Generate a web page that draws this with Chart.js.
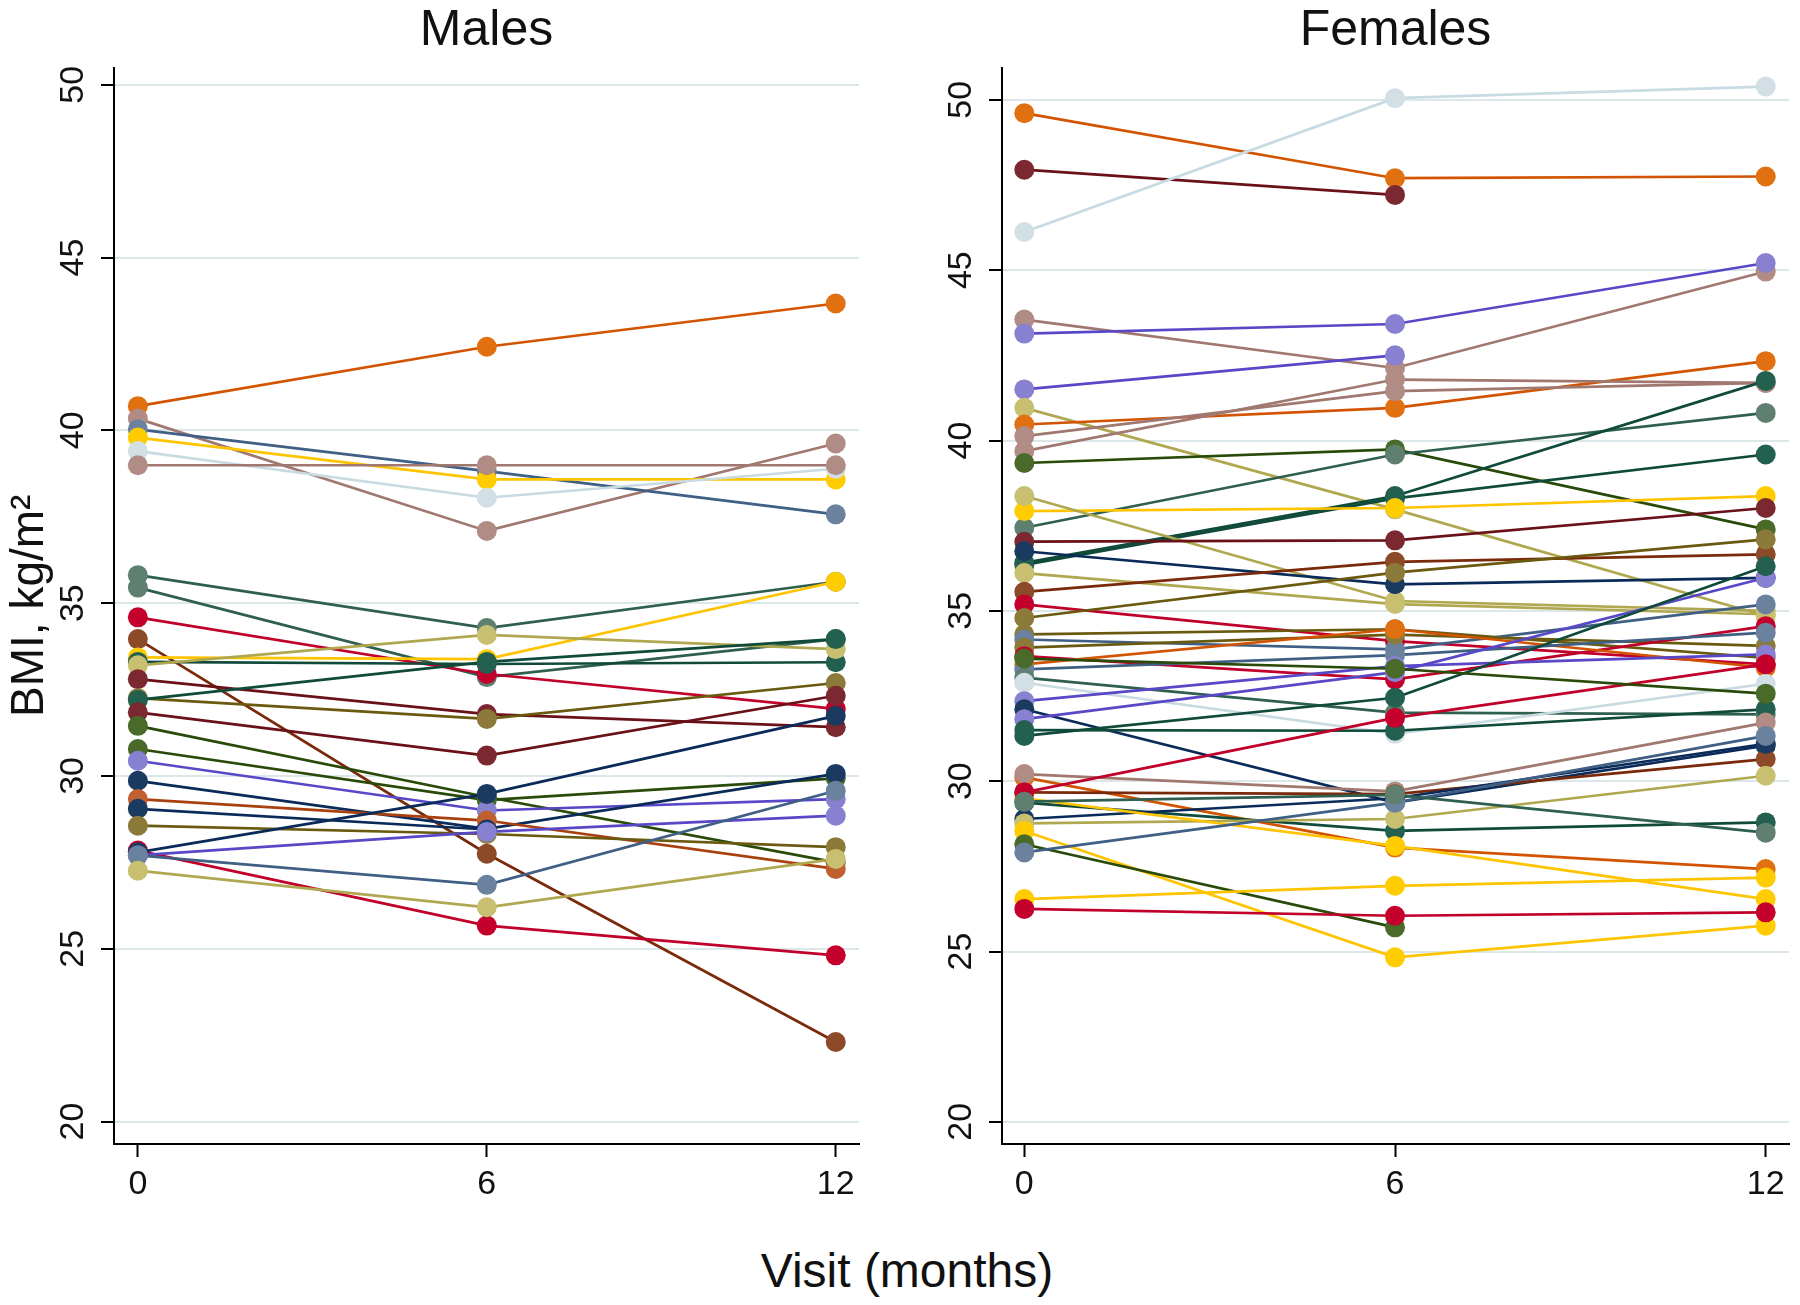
<!DOCTYPE html>
<html>
<head>
<meta charset="utf-8">
<script src="https://cdn.jsdelivr.net/npm/chart.js@4.4.1/dist/chart.umd.min.js"></script>
<style>
  html, body { margin: 0; padding: 0; background: #fff; }
  body { width: 1800px; height: 1305px; position: relative; overflow: hidden; font-family: "Liberation Sans", Arial, sans-serif; }
  #male { position: absolute; left: 0; top: 0; }
  #female { position: absolute; left: 880px; top: 0; }
  #xlabel { position: absolute; left: 0; width: 1814px; top: 1243px; text-align: center; font-size: 48px; color: #111; }
</style>
</head>
<body>
<canvas id="male" width="880" height="1210" style="width:880px;height:1210px"></canvas>
<canvas id="female" width="920" height="1210" style="width:920px;height:1210px"></canvas>
<div id="xlabel">Visit (months)</div>

<script>
// BMI per participant at visit 0, 6 and 12 months (null = no visit)
const visits = [0, 6, 12];
const xTicks = [0, 6, 12];
const yTicks = [20, 25, 30, 35, 40, 45, 50];

const maleColors = [
  'orange', 'rosy', 'bluegrey', 'yellow', 'lightblue', 'rosy', 'greygreen', 'greygreen',
  'red', 'sienna', 'yellow', 'teal', 'khaki', 'maroon', 'olive', 'teal', 'maroon',
  'darkgreen', 'darkgreen', 'purple', 'navy', 'orangebrown', 'navy', 'olive', 'red',
  'navy', 'purple', 'bluegrey', 'khaki'
];
const maleBMI = [
  [40.70, 42.42, 43.67],
  [40.34, 37.09, 39.62],
  [40.03, 38.82, 37.57],
  [39.79, 38.58, 38.58],
  [39.40, 38.05, 38.89],
  [38.99, 38.99, 38.99],
  [35.81, 34.28, 35.62],
  [35.45, 32.86, 33.96],
  [34.59, 32.95, 31.94],
  [33.96, 27.75, 22.30],
  [33.43, 33.38, 35.62],
  [33.30, 33.24, 33.29],
  [33.20, 34.08, 33.67],
  [32.80, 31.79, 31.41],
  [32.25, 31.65, 32.69],
  [32.20, 33.30, 33.96],
  [31.84, 30.59, 32.32],
  [31.45, 29.39, 27.50],
  [30.78, 29.30, 29.93],
  [30.44, 29.00, 29.33],
  [29.86, 28.47, 30.06],
  [29.33, 28.71, 27.31],
  [29.05, 28.45, null],
  [28.56, 28.32, 27.94],
  [27.84, 25.67, 24.81],
  [27.79, 29.48, 31.74],
  [27.70, 28.38, 28.85],
  [27.70, 26.85, 29.57],
  [27.26, 26.20, 27.60]
];

const femaleColors = [
  'orange', 'maroon', 'lightblue', 'rosy', 'purple', 'purple', 'khaki', 'orange', 'rosy',
  'rosy', 'darkgreen', 'greygreen', 'teal', 'teal', 'yellow', 'khaki', 'maroon', 'navy',
  'khaki', 'sienna', 'red', 'olive', 'olive', 'bluegrey', 'olive', 'red', 'orange',
  'bluegrey', 'greygreen', 'lightblue', 'purple', 'navy', 'purple', 'teal', 'teal',
  'orange', 'rosy', 'sienna', 'teal', 'navy', 'khaki', 'yellow', 'yellow', 'darkgreen',
  'bluegrey', 'yellow', 'red', 'red', 'greygreen', 'darkgreen'
];
const femaleBMI = [
  [49.61, 47.70, 47.75],
  [47.95, 47.21, null],
  [46.12, 50.05, 50.39],
  [43.55, 42.13, 44.96],
  [43.14, 43.42, 45.21],
  [41.50, 42.50, null],
  [40.96, 37.98, 34.85],
  [40.47, 40.96, 42.33],
  [40.13, 41.45, 41.69],
  [39.69, 41.79, 41.69],
  [39.34, 39.74, 37.39],
  [37.44, 39.59, 40.81],
  [36.41, 38.37, 41.75],
  [36.35, 38.30, 39.59],
  [37.93, 38.02, 38.37],
  [38.37, 35.29, 35.00],
  [37.03, 37.07, 38.02],
  [36.75, 35.78, 35.97],
  [36.11, 35.20, 34.90],
  [35.56, 36.44, 36.66],
  [35.19, 34.11, 33.43],
  [34.79, 36.12, 37.10],
  [34.31, 34.46, 33.62],
  [34.16, 33.87, 35.19],
  [33.92, 34.30, 33.97],
  [33.67, 32.99, 34.55],
  [33.43, 34.46, 33.33],
  [33.28, 33.70, 34.36],
  [33.04, 32.01, 31.96],
  [32.89, 31.39, 32.86],
  [32.35, 33.38, 33.72],
  [32.11, 29.37, 31.04],
  [31.82, 33.20, 35.97],
  [31.33, 32.45, 36.31],
  [31.50, 31.48, 32.11],
  [30.11, 28.05, 27.42],
  [30.21, 29.70, 31.72],
  [29.67, 29.62, 30.65],
  [29.37, 28.54, 28.79],
  [28.89, 29.50, 31.10],
  [28.76, 28.89, 30.16],
  [28.54, 24.83, 25.76],
  [29.50, 28.10, 26.54],
  [28.15, 25.71, null],
  [27.91, 29.37, 31.33],
  [26.54, 26.93, 27.17],
  [26.25, 26.05, 26.15],
  [29.67, 31.86, 33.43],
  [29.40, 29.60, 28.49],
  [33.60, 33.30, 32.57]
];

// [line colour, marker colour]
const palette = {
  orange:      ['#d35400', '#e07010'],
  rosy:        ['#a07870', '#b08c84'],
  bluegrey:    ['#3f5f85', '#6a829e'],
  yellow:      ['#ffc400', '#ffcc00'],
  lightblue:   ['#c8dae2', '#d2e0e6'],
  greygreen:   ['#2f5f4f', '#5f8070'],
  teal:        ['#0f4a3a', '#23604f'],
  red:         ['#c0002a', '#c4002c'],
  sienna:      ['#7a2a0a', '#8c4a28'],
  maroon:      ['#6a1018', '#7c2830'],
  olive:       ['#6a5a10', '#8c7a3a'],
  darkgreen:   ['#2a4a0a', '#4a6a2a'],
  purple:      ['#5848c8', '#8880d0'],
  navy:        ['#0a2a5a', '#1a3a60'],
  khaki:       ['#b0a850', '#c8c070'],
  orangebrown: ['#a84010', '#c06030']
};

const FONT = '"Liberation Sans", Arial, sans-serif';
const TEXT = '#111';

function buildDatasets(series, colors){
  return series.map((vals, i) => {
    const c = palette[colors[i]];
    return {
      data: vals.map((v, j) => ({x: visits[j], y: v})).filter(p => p.y !== null),
      order: -i,  // later participants drawn on top
      borderColor: c[0],
      backgroundColor: c[1],
      pointBackgroundColor: c[1],
      pointBorderColor: c[1],
      pointBorderWidth: 0,
      pointRadius: 10,
      borderWidth: 2.7,
      tension: 0
    };
  });
}

function makeChart(id, title, series, colors, opts){
  return new Chart(document.getElementById(id), {
    type: 'line',
    data: { datasets: buildDatasets(series, colors) },
    options: {
      responsive: false,
      animation: false,
      events: [],
      layout: { padding: { left: 0, right: opts.padRight, top: 0, bottom: 0 } },
      plugins: {
        legend: { display: false },
        tooltip: { enabled: false },
        title: {
          display: true, text: title, fullSize: false, color: TEXT,
          font: { family: FONT, size: 50, weight: 'normal' },
          padding: { top: 1, bottom: 6.5 }
        }
      },
      scales: {
        x: {
          type: 'linear', min: opts.xMin, max: opts.xMax,
          afterBuildTicks: s => { s.ticks = xTicks.map(v => ({value: v})); },
          afterFit: s => { s.height = 66; },
          grid: { drawOnChartArea: false, tickColor: '#000', tickLength: 13, tickWidth: 2 },
          border: { color: '#000', width: 2 },
          ticks: { color: TEXT, font: { family: FONT, size: 34 }, padding: 7, maxRotation: 0 }
        },
        y: {
          type: 'linear', min: 19.35, max: opts.yMax,
          afterBuildTicks: s => { s.ticks = yTicks.map(v => ({value: v})); },
          afterFit: s => { s.width = opts.yWidth; },
          grid: { color: '#dce7ea', lineWidth: 2, tickColor: '#000', tickLength: 13, tickWidth: 2 },
          border: { color: '#000', width: 2 },
          ticks: {
            color: TEXT, font: { family: FONT, size: 34 }, padding: 8,
            minRotation: 90, maxRotation: 90, crossAlign: 'center'
          },
          title: {
            display: opts.yTitle, text: 'BMI, kg/m²', color: TEXT,
            font: { family: FONT, size: 46 }, padding: { top: 3, bottom: 0 }
          }
        }
      }
    }
  });
}

makeChart('male', 'Males', maleBMI, maleColors,
  { xMin: -0.41, xMax: 12.4, yMax: 50.5, yWidth: 114, padRight: 21, yTitle: true });
makeChart('female', 'Females', femaleBMI, femaleColors,
  { xMin: -0.361, xMax: 12.377, yMax: 50.95, yWidth: 122, padRight: 11, yTitle: false });
</script>
</body>
</html>
